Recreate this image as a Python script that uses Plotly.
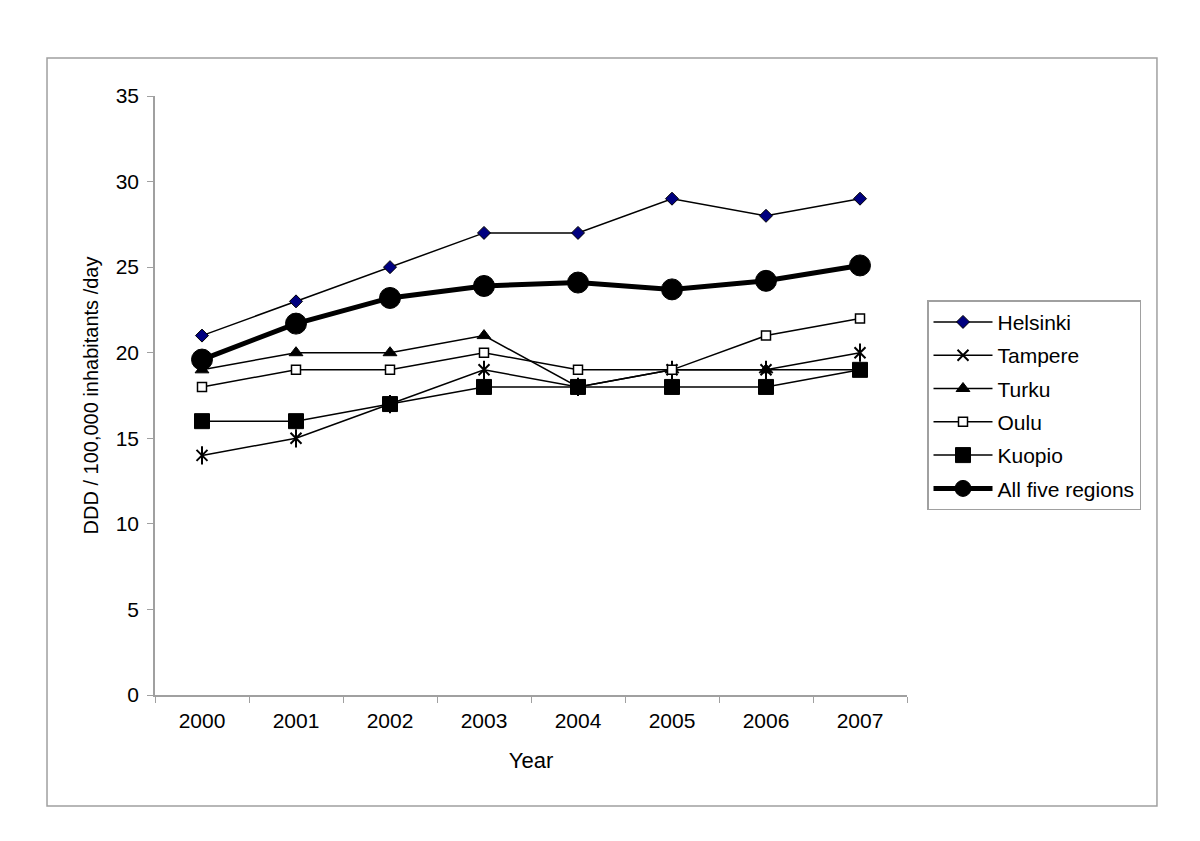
import plotly.graph_objects as go

years = ["2000", "2001", "2002", "2003", "2004", "2005", "2006", "2007"]
helsinki = [21, 23, 25, 27, 27, 29, 28, 29]
tampere = [14, 15, 17, 19, 18, 19, 19, 20]
turku = [19, 20, 20, 21, 18, 19, 19, 19]
oulu = [18, 19, 19, 20, 19, 19, 21, 22]
kuopio = [16, 16, 17, 18, 18, 18, 18, 19]
all_five = [19.6, 21.7, 23.2, 23.9, 24.1, 23.7, 24.2, 25.1]

FONT = "Liberation Sans, Arial, sans-serif"
fig = go.Figure()

def add(name, y, symbol, size, color, lw=1.5, lcolor="black", fill=None, mlw=1):
    fig.add_trace(go.Scatter(
        x=years, y=y, name=name, mode="lines+markers", legendgroup=name,
        line=dict(color="black", width=lw),
        marker=dict(symbol=symbol, size=size, color=fill if fill else color,
                    line=dict(color=lcolor, width=mlw)),
    ))

add("Helsinki", helsinki, "diamond", 10, "#000080", mlw=1)
add("Tampere", tampere, "x-thin-open", 11, "black", mlw=2)
fig.add_trace(go.Scatter(x=years, y=tampere, mode="markers", showlegend=False,
                         legendgroup="Tampere", hoverinfo="skip",
                         marker=dict(symbol="line-ns-open", size=13, color="black",
                                     line=dict(color="black", width=2))))
add("Turku", turku, "triangle-up", 12, "black")
add("Oulu", oulu, "square", 9, "black", fill="white", mlw=1.5)
add("Kuopio", kuopio, "square", 15, "black")
add("All five regions", all_five, "circle", 21, "black", lw=5)

fig.update_layout(
    width=1200, height=841,
    paper_bgcolor="white", plot_bgcolor="white",
    margin=dict(l=147, r=301, t=88, b=154),
    font=dict(family=FONT, size=20, color="black"),
    legend=dict(x=1.0266, y=0.659, xanchor="left", yanchor="top",
                bordercolor="#a0a0a0", borderwidth=1.5,
                font=dict(size=21), tracegroupgap=3, itemwidth=59,
                bgcolor="white"),
    xaxis=dict(type="category", range=[-0.5, 7.5], showline=True,
               linecolor="#a0a0a0", linewidth=1.5, ticks="outside",
               tickson="boundaries", ticklen=6, tickcolor="#a0a0a0",
               tickfont=dict(size=21), ticklabelstandoff=6,
               showgrid=False, zeroline=False,
               title=dict(text="Year", standoff=22, font=dict(size=22))),
    yaxis=dict(range=[0, 35], dtick=5, showline=True, linecolor="#a0a0a0",
               linewidth=1.5, ticks="outside", ticklen=6, tickcolor="#a0a0a0",
               tickfont=dict(size=21), ticklabelstandoff=4,
               showgrid=False, zeroline=False,
               title=dict(text="DDD / 100,000 inhabitants /day", standoff=12,
                          font=dict(size=20))),
    shapes=[dict(type="rect", xref="paper", yref="paper",
                 x0=-0.1436, x1=1.3324, y0=-0.1853, y1=1.0634,
                 line=dict(color="#a0a0a0", width=1.5))],
)

fig.write_html("out.html")
